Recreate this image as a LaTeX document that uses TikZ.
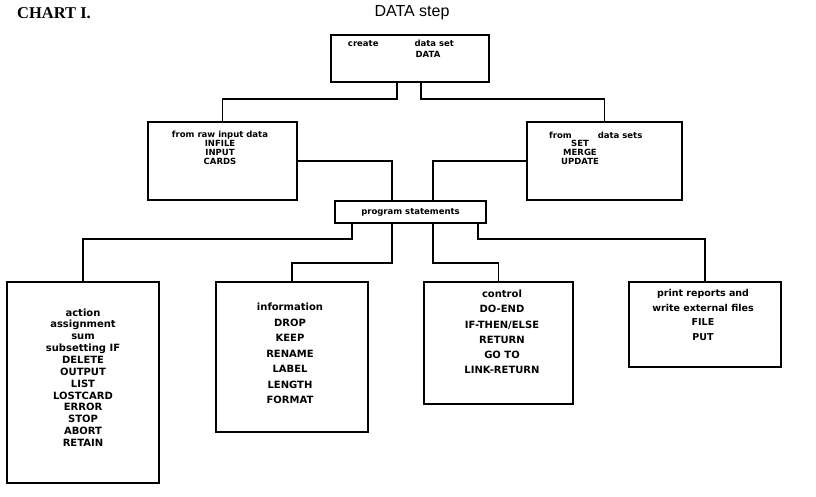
\documentclass[tikz,border=0pt]{standalone}
\usepackage{fontspec}
\setmainfont{DejaVu Sans}
\newfontfamily\titleserif{Liberation Serif}
\newfontfamily\titlesans{Liberation Sans}
\begin{document}
\begin{tikzpicture}[x=1pt,y=-1pt,
  box/.style={draw, line width=1.4pt, inner sep=0pt, outer sep=0pt},
  conn/.style={draw, line width=1.4pt},
  txt/.style={inner sep=0pt, align=center}]
\useasboundingbox (0,0) rectangle (816,496);
% titles
\node[anchor=west, inner sep=0pt, font={\titleserif\bfseries\fontsize{16.5}{19}\selectfont}] (chart) at (17,13) {CHART I.};
\node[inner sep=0pt, font={\titlesans\fontsize{16}{19}\selectfont}] (title) at (412,13) {DATA step};
% boxes
\node[box, minimum width=158pt, minimum height=47pt] (top) at (410,58.5) {};
\node[box, minimum width=149pt, minimum height=78pt] (lb) at (222.5,161) {};
\node[box, minimum width=155pt, minimum height=78pt] (rb) at (604.5,161) {};
\node[box, minimum width=151pt, minimum height=22pt] (ps) at (410.5,212) {};
\node[box, minimum width=152pt, minimum height=201pt] (b1) at (83,382.5) {};
\node[box, minimum width=152pt, minimum height=150pt] (b2) at (292,357) {};
\node[box, minimum width=149pt, minimum height=122pt] (b3) at (498.5,343) {};
\node[box, minimum width=152pt, minimum height=85pt] (b4) at (705,324.5) {};
% texts
\node[txt, font={\bfseries\fontsize{8.5}{10}\selectfont}] (toptxt) at (401,43) {create\hspace{36pt}data set};
\node[txt, font={\bfseries\fontsize{8.5}{10}\selectfont}] (topdata) at (428,54) {DATA};
\node[txt, font={\bfseries\fontsize{8.5}{9}\selectfont}] (lbt) at (220,148) {from raw input data\\INFILE\\INPUT\\CARDS};
\node[txt, anchor=west, font={\bfseries\fontsize{8.5}{9}\selectfont}] (rbt1) at (549,135) {from\hspace{26pt}data sets};
\node[txt, font={\bfseries\fontsize{8.5}{9}\selectfont}] (rbt2) at (580,152) {SET\\MERGE\\UPDATE};
\node[txt, font={\bfseries\fontsize{8.5}{10}\selectfont}] (pst) at (410.5,212) {program statements};
\node[txt, font={\bfseries\fontsize{10}{11.85}\selectfont}] (b1t) at (83,377.5) {action\\assignment\\sum\\subsetting IF\\DELETE\\OUTPUT\\LIST\\LOSTCARD\\ERROR\\STOP\\ABORT\\RETAIN};
\node[txt, font={\bfseries\fontsize{10}{15.5}\selectfont}] (b2t) at (290,353.5) {information\\DROP\\KEEP\\RENAME\\LABEL\\LENGTH\\FORMAT};
\node[txt, font={\bfseries\fontsize{10}{15.2}\selectfont}] (b3t) at (502,332) {control\\DO-END\\IF-THEN/ELSE\\RETURN\\GO TO\\LINK-RETURN};
\node[txt, font={\bfseries\fontsize{9.5}{14.7}\selectfont}] (b4t) at (703,315) {print reports and\\write external files\\FILE\\PUT};
% connector x positions
\coordinate (xa) at (397,0);
\coordinate (xb) at (421,0);
\coordinate (xc) at (392,0);
\coordinate (xd) at (433,0);
\coordinate (xe) at (352,0);
\coordinate (xf) at (478,0);
% connectors
\draw[conn] (top.south -| xa) -- ++(0,17) -| (lb.north);
\draw[conn] (top.south -| xb) -- ++(0,17) -| (rb.north);
\draw[conn] (lb.east) -| (ps.north -| xc);
\draw[conn] (rb.west) -| (ps.north -| xd);
\draw[conn] (ps.south -| xe) -- ++(0,16) -| (b1.north);
\draw[conn] (ps.south -| xc) -- ++(0,40) -| (b2.north);
\draw[conn] (ps.south -| xd) -- ++(0,40) -| (b3.north);
\draw[conn] (ps.south -| xf) -- ++(0,16) -| (b4.north);
\end{tikzpicture}
\end{document}
